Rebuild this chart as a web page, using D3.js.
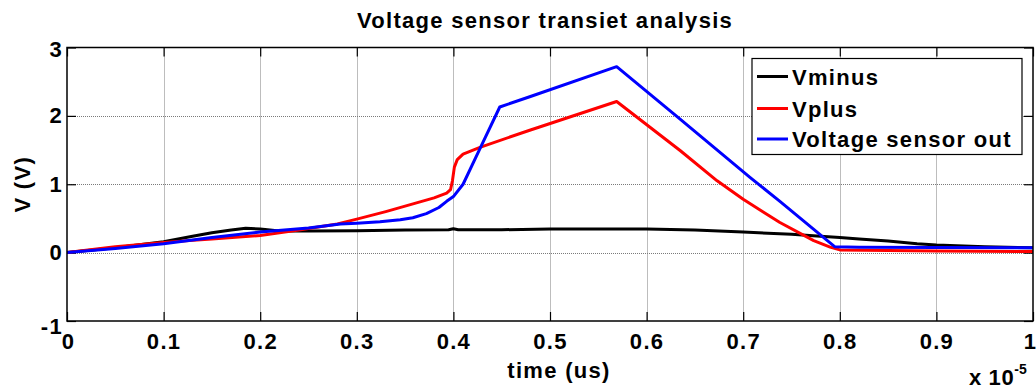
<!DOCTYPE html>
<html>
<head>
<meta charset="utf-8">
<script src="https://cdn.jsdelivr.net/npm/d3@7"></script>
<style>
  html, body { margin: 0; padding: 0; background: #fff; }
  svg { display: block; }
  text { font-family: "Liberation Sans", Arial, sans-serif; font-weight: bold; fill: #000; }
</style>
</head>
<body>
<svg id="chart" width="1036" height="392"></svg>
<script>
// ---- data ----
const xTicks = [0, 0.1, 0.2, 0.3, 0.4, 0.5, 0.6, 0.7, 0.8, 0.9, 1];
const xTickLabels = ["0", "0.1", "0.2", "0.3", "0.4", "0.5", "0.6", "0.7", "0.8", "0.9", "1"];
const yTicks = [-1, 0, 1, 2, 3];
const yTickLabels = ["-1", "0", "1", "2", "3"];

const vminusT = [0, 0.05, 0.1, 0.13, 0.15, 0.17, 0.185, 0.2, 0.22, 0.25, 0.3, 0.35, 0.395, 0.4, 0.405, 0.45, 0.5, 0.55, 0.6, 0.65, 0.7, 0.75, 0.78, 0.8, 0.82, 0.85, 0.88, 0.9, 0.95, 1.0];
const vminusV = [0, 0.07, 0.16, 0.24, 0.29, 0.33, 0.355, 0.345, 0.315, 0.315, 0.32, 0.33, 0.335, 0.35, 0.335, 0.335, 0.345, 0.345, 0.345, 0.33, 0.3, 0.27, 0.24, 0.22, 0.2, 0.17, 0.13, 0.11, 0.085, 0.07];

const vplusT = [0, 0.05, 0.1, 0.15, 0.2, 0.24, 0.28, 0.3, 0.33, 0.36, 0.38, 0.393, 0.397, 0.399, 0.401, 0.404, 0.41, 0.4275, 0.479, 0.569, 0.635, 0.673, 0.7, 0.738, 0.773, 0.79, 0.8, 0.85, 0.9, 1.0];
const vplusV = [0, 0.085, 0.15, 0.2, 0.25, 0.33, 0.42, 0.49, 0.6, 0.72, 0.8, 0.87, 0.92, 1.05, 1.25, 1.36, 1.44, 1.54, 1.79, 2.21, 1.49, 1.05, 0.78, 0.44, 0.175, 0.08, 0.04, 0.03, 0.025, 0.015];

const voutT = [0, 0.05, 0.1, 0.15, 0.2, 0.25, 0.283, 0.3, 0.324, 0.345, 0.358, 0.372, 0.385, 0.393, 0.4, 0.41, 0.4275, 0.448, 0.479, 0.569, 0.635, 0.707, 0.738, 0.779, 0.795, 0.82, 0.9, 1.0];
const voutV = [0, 0.06, 0.13, 0.22, 0.3, 0.36, 0.42, 0.43, 0.45, 0.48, 0.51, 0.57, 0.66, 0.75, 0.82, 1.0, 1.52, 2.13, 2.28, 2.72, 1.95, 1.1, 0.75, 0.27, 0.085, 0.08, 0.075, 0.07];

const seriesNames = ["Vminus", "Vplus", "Voltage sensor out"];
const seriesColors = ["#000000", "#ff0000", "#0000ff"];

// ---- layout ----
const W = 1036, H = 392;
const margin = { left: 67, top: 47.5, right: 3, bottom: 71 };
const iw = W - margin.left - margin.right;
const ih = H - margin.top - margin.bottom;

const svg = d3.select("#chart");
const x = d3.scaleLinear().domain([0, 1]).range([margin.left, margin.left + iw]);
const y = d3.scaleLinear().domain([-1, 3]).range([margin.top + ih, margin.top]);

const FS = 22, LS = "1.3px";

// grid
const grid = svg.append("g");
grid.selectAll("line.gx").data(xTicks.slice(1, -1)).join("line")
  .attr("x1", d => Math.round(x(d)) + 0.5).attr("x2", d => Math.round(x(d)) + 0.5)
  .attr("y1", y(3)).attr("y2", y(-1))
  .attr("stroke", "#7a7a7a").attr("stroke-width", 1).attr("stroke-dasharray", "1,1");
grid.selectAll("line.gy").data(yTicks.slice(1, -1)).join("line")
  .attr("y1", d => Math.round(y(d)) + 0.5).attr("y2", d => Math.round(y(d)) + 0.5)
  .attr("x1", x(0)).attr("x2", x(1))
  .attr("stroke", "#7a7a7a").attr("stroke-width", 1).attr("stroke-dasharray", "1,1");

// axes (ticks inside)
const tickLen = 9;
const xAxisB = d3.axisBottom(x).tickValues(xTicks).tickSize(-tickLen).tickPadding(12)
  .tickFormat((d, i) => xTickLabels[i]);
const gxb = svg.append("g").attr("transform", `translate(0,${y(-1)})`).call(xAxisB);
gxb.select(".domain").remove();
gxb.selectAll("line").attr("stroke", "#000").attr("stroke-width", 1.2);
gxb.selectAll("text").attr("font-size", FS).attr("letter-spacing", LS)
  .attr("font-family", "Liberation Sans, Arial, sans-serif").attr("font-weight", "bold")
  .attr("dy", "0.71em")
  .attr("dx", (d, i) => i === xTicks.length - 1 ? -3 : (i === 0 ? 1 : 0));

const xAxisT = d3.axisTop(x).tickValues(xTicks).tickSize(-tickLen).tickFormat("");
const gxt = svg.append("g").attr("transform", `translate(0,${y(3)})`).call(xAxisT);
gxt.select(".domain").remove();
gxt.selectAll("line").attr("stroke", "#000").attr("stroke-width", 1.2);

const yAxisL = d3.axisLeft(y).tickValues(yTicks).tickSize(-tickLen).tickPadding(4)
  .tickFormat((d, i) => yTickLabels[i]);
const gyl = svg.append("g").attr("transform", `translate(${x(0)},0)`).call(yAxisL);
gyl.select(".domain").remove();
gyl.selectAll("line").attr("stroke", "#000").attr("stroke-width", 1.2);
gyl.selectAll("text").attr("font-size", FS).attr("letter-spacing", LS)
  .attr("font-family", "Liberation Sans, Arial, sans-serif").attr("font-weight", "bold")
  .attr("y", (d, i) => i === 0 ? 5 : (i === yTicks.length - 1 ? 2 : 0));

const yAxisR = d3.axisRight(y).tickValues(yTicks).tickSize(-tickLen).tickFormat("");
const gyr = svg.append("g").attr("transform", `translate(${x(1)},0)`).call(yAxisR);
gyr.select(".domain").remove();
gyr.selectAll("line").attr("stroke", "#000").attr("stroke-width", 1.2);

// series
const line = d3.line().x(d => x(d[0])).y(d => y(d[1]));
const seriesData = [
  d3.zip(vminusT, vminusV),
  d3.zip(vplusT, vplusV),
  d3.zip(voutT, voutV)
];
svg.append("clipPath").attr("id", "clip").append("rect")
  .attr("x", x(0)).attr("y", y(3)).attr("width", iw).attr("height", ih);
svg.append("g").attr("clip-path", "url(#clip)")
  .selectAll("path").data(seriesData).join("path")
  .attr("d", line).attr("fill", "none")
  .attr("stroke", (d, i) => seriesColors[i]).attr("stroke-width", 3)
  .attr("stroke-linejoin", "round").attr("stroke-linecap", "round");

// frame
svg.append("rect").attr("x", x(0)).attr("y", y(3)).attr("width", iw).attr("height", ih)
  .attr("fill", "none").attr("stroke", "#000").attr("stroke-width", 1.5);

// legend
const lg = svg.append("g");
lg.append("rect").attr("x", 752).attr("y", 58.5).attr("width", 270).attr("height", 96)
  .attr("fill", "#fff").attr("stroke", "#000").attr("stroke-width", 1.2);
const rowY = [76.5, 108.5, 139];
seriesNames.forEach((name, i) => {
  lg.append("line").attr("x1", 757).attr("x2", 788).attr("y1", rowY[i]).attr("y2", rowY[i])
    .attr("stroke", seriesColors[i]).attr("stroke-width", 3);
  lg.append("text").attr("x", 792).attr("y", rowY[i] + 8).attr("font-size", FS)
    .attr("letter-spacing", LS).text(name);
});

// title & labels
svg.append("text").attr("x", 545).attr("y", 28).attr("text-anchor", "middle")
  .attr("font-size", FS).attr("letter-spacing", LS).text("Voltage sensor transiet analysis");
svg.append("text").attr("x", 559).attr("y", 378).attr("text-anchor", "middle")
  .attr("font-size", FS).attr("letter-spacing", LS).text("time (us)");
svg.append("text").attr("transform", `translate(30,${y(1)}) rotate(-90)`).attr("text-anchor", "middle")
  .attr("font-size", FS).attr("letter-spacing", LS).text("V (V)");
const ex = svg.append("text").attr("x", 969).attr("y", 385).attr("font-size", FS).attr("letter-spacing", "0.6px");
ex.append("tspan").text("x 10");
ex.append("tspan").attr("font-size", 14).attr("dy", -11).attr("letter-spacing", "0px").text("-5");
</script>
</body>
</html>
